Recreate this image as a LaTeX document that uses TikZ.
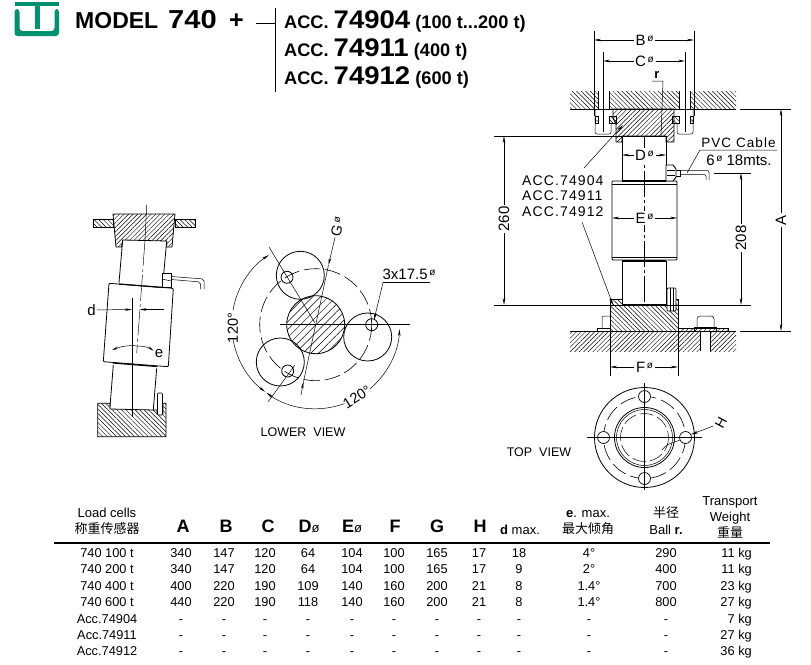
\documentclass[tikz,border=0pt]{standalone}
\usepackage{fontspec}
\usepackage{graphicx}
\setmainfont{Liberation Sans}
\newfontfamily\cjk{Noto Sans CJK SC}
\newfontfamily\tech[LetterSpace=8]{Liberation Sans}
\usetikzlibrary{arrows.meta,patterns.meta,calc}
\definecolor{logogreen}{RGB}{0,146,110}
\newcommand{\fs}[1]{\fontsize{#1}{#1}\selectfont}
\newcommand{\bignum}[1]{{\fs{25.5}\scalebox{1.08}[1]{#1}}}
\newcommand{\dg}{\raisebox{.5ex}{\fs{10}\,ø}}
\tikzset{
    hatchl/.style={pattern={Lines[angle=45,distance=3.2pt,line width=.45pt]}},
    hatchr/.style={pattern={Lines[angle=-45,distance=3.2pt,line width=.45pt]}},
    hatchwide/.style={pattern={Lines[angle=45,distance=5.5pt,line width=.5pt]}},
    thick line/.style={line width=.9pt},
    dim/.style={line width=.5pt,-{Stealth[length=7pt,width=2.6pt]}},
    thin line/.style={line width=.5pt},
    axis line/.style={line width=.45pt,dash pattern=on 26pt off 3pt on 3pt off 3pt},
    bolt circle/.style={line width=.6pt,dash pattern=on 16pt off 5pt},
    lab/.style={font=\fs{15},inner sep=1.5pt,fill=white},
    lab clear/.style={font=\fs{13.5},inner sep=1pt},
    head/.style={font=\fs{18.2}\bfseries,inner sep=0pt,anchor=base west},
    cell/.style={font=\fs{12.8},inner sep=0pt,anchor=base},
    cellh/.style={font=\fs{13},inner sep=0pt,anchor=base},
    letter/.style={font=\fs{18}\bfseries,inner sep=0pt,anchor=base},
}
\begin{document}
\begin{tikzpicture}[x=1pt,y=-1pt]
    \useasboundingbox (0,0) rectangle (811,664);
    % logo
    \fill[logogreen] (14.5,2) rectangle (59,6);
    \fill[logogreen] (35,6) rectangle (40,29);
    \fill[logogreen,rounded corners=3pt] (14.5,9) -- (19.5,9) -- (19.5,31) -- (54.5,31) -- (54.5,9) -- (59,9) -- (59,36) -- (14.5,36) -- cycle;
    % title
    \node[head,font=\fs{23}\bfseries] (model) at (75,28) {MODEL};
    \node[head] (num) at (168,28) {\fs{26}\scalebox{1.12}[1]{740}};
    \node[head,font=\fs{25}] (plus) at (229,28.5) {\textbf{+}};
    \coordinate (brace) at (275,23);
    \coordinate (bracetop) at (275,8);
    \coordinate (bracebot) at (275,92);
    \draw[thin line] (256,23) -- (brace);
    \draw[line width=.7pt] (bracetop) -- (bracebot);
    \node[head] (acca) at (284,28) {ACC. \bignum{74904} (100 t...200 t)};
    \node[head] (accb) at (284,56) {ACC. \bignum{74911} (400 t)};
    \node[head] (accc) at (284,84) {ACC. \bignum{74912} (600 t)};

    % main view, ceiling plate
    \fill[hatchr] (570,91) rectangle (598,109);
    \fill[hatchr] (609,91) rectangle (679,109);
    \fill[hatchr] (690,91) rectangle (736,109);
    \draw[thick line] (570,109) -- (736,109);
    \draw[thin line] (598,91) -- (598,109);
    \draw[thin line] (609,91) -- (609,109);
    \draw[thin line] (679,91) -- (679,109);
    \draw[thin line] (690,91) -- (690,109);
    % accessory block
    \draw[thick line,hatchl] (613,109) -- (674,109) -- (674,142) -- (666,142) -- (666,136) -- (622,136) -- (622,142) -- (616,142) -- (616,124) -- (613,118) -- cycle;
    % bolts of the plate
    \draw[thin line,rounded corners=2pt] (595,109) -- (595,134) -- (611,134) -- (611,124);
    \draw[thin line,rounded corners=2pt] (677,124) -- (677,134) -- (693,134) -- (693,109);
    \draw[line width=.8pt,hatchr] (595,116) rectangle (598,123);
    \draw[line width=.8pt,hatchr] (609,116) rectangle (616,123);
    \draw[line width=.8pt,hatchr] (672,116) rectangle (679,123);
    \draw[line width=.8pt,hatchr] (690,116) rectangle (693,123);
    % load cell
    \draw[thick line] (622,136) rectangle (666,180);
    \draw[line width=1.4pt] (622,136.5) -- (666,136.5);
    \draw[thick line,rounded corners=1pt] (612,183) -- (612,181) -- (677,181) -- (677,260) -- (612,260) -- cycle;
    \draw[line width=1.4pt] (622,181) -- (666,181);
    \draw[thin line] (612,184) -- (677,184);
    \draw[thin line] (612,257) -- (677,257);
    \draw[line width=1.4pt] (622,261) -- (666,261);
    \draw[thick line] (622,261) -- (622,305);
    \draw[thick line] (666,261) -- (666,305);
    % cable
    \draw[line width=.9pt,fill=white] (666,165) -- (673,165) -- (676,169) -- (676,177) -- (673,181) -- (666,181) -- cycle;
    \draw[line width=.6pt] (667,170) -- (675,170);
    \draw[line width=.6pt] (667,175) -- (675,175);
    \draw[thin line] (676,170) -- (680,170) -- (680,176) -- (676,176);
    \draw[thin line,rounded corners=2pt] (680,170.5) -- (709,170.5) -- (709,180);
    \draw[thin line,rounded corners=2pt] (680,174.5) -- (706,174.5) -- (706,180);
    % foot block and base
    \draw[thick line,hatchr] (610,331) -- (610,299) -- (622,299) -- (622,305) -- (666,305) -- (666,299) -- (678,299) -- (678,331) -- cycle;
    \draw[line width=1.4pt] (622,305) -- (666,305);
    \fill[white] (667,288) rectangle (676,311);
    \draw[line width=.7pt,rounded corners=1pt] (667,288) rectangle (676,311);
    \draw[thin line] (670,288) -- (670,311);
    \draw[thin line] (673,288) -- (673,311);
    \fill[hatchl] (570,331) rectangle (700,351);
    \fill[hatchl] (710,331) rectangle (736,351);
    \draw[thick line] (570,331) -- (736,331);
    \draw[thin line] (700,331) -- (700,351);
    \draw[thin line] (710,331) -- (710,351);
    \draw[thin line,hatchl] (678,328) rectangle (728,331);
    \draw[thin line,rounded corners=2pt] (602,328) -- (602,316) -- (610,316);
    \draw[thin line] (597,328) rectangle (610,331);
    \draw[thin line,rounded corners=3pt] (697,327) -- (697,316) -- (714,316) -- (714,327);
    \draw[thin line] (694,327) rectangle (716,331);
    % centre line
    \draw[axis line] (644.5,136) -- (644.5,305);
    % extension lines
    \draw[thin line] (594,31) -- (594,116);
    \draw[thin line] (694,31) -- (694,116);
    \draw[thin line] (603,52) -- (603,132);
    \draw[thin line] (685,52) -- (685,132);
    \draw[thin line] (494,136) -- (622,136);
    \draw[thin line] (494,305) -- (622,305);
    \draw[thin line] (666,305) -- (751,305);
    \draw[thin line] (740,109) -- (791,109);
    \draw[thin line] (740,331) -- (791,331);
    \draw[thin line] (714,173) -- (751,173);
    \draw[thin line] (610,331) -- (610,376);
    \draw[thin line] (678,331) -- (678,376);
    % dimensions
    \node[lab] (dimb) at (644.5,40) {B\dg};
    \draw[dim] (dimb) -- (594,40);
    \draw[dim] (dimb) -- (694,40);
    \node[lab] (dimc) at (644.5,61) {C\dg};
    \draw[dim] (dimc) -- (603,61);
    \draw[dim] (dimc) -- (685,61);
    \node[lab] (dimd) at (644.5,155) {D\dg};
    \draw[dim] (dimd) -- (622,155);
    \draw[dim] (dimd) -- (666,155);
    \node[lab] (dime) at (644.5,218) {E\dg};
    \draw[dim] (dime) -- (612,218);
    \draw[dim] (dime) -- (677,218);
    \node[lab] (dimf) at (644.5,367) {F\dg};
    \draw[dim] (dimf) -- (610,367);
    \draw[dim] (dimf) -- (678,367);
    \node[lab,rotate=90] (dimh) at (504,219) {260};
    \draw[dim] (dimh) -- (504,136);
    \draw[dim] (dimh) -- (504,305);
    \node[lab,rotate=90] (dimk) at (741,238) {208};
    \draw[dim] (dimk) -- (741,173);
    \draw[dim] (dimk) -- (741,305);
    \node[lab,rotate=90] (dima) at (781,220) {A};
    \draw[dim] (dima) -- (781,109);
    \draw[dim] (dima) -- (781,331);
    % radius
    \node[lab clear,font=\fs{13}\bfseries] (rad) at (657,75) {r};
    \draw[thin line] (652,81) -- (663,81) -- (661,136);
    % accessory labels
    \node[lab clear,anchor=west,font=\fs{14}\tech] (labacca) at (521,181) {ACC.74904};
    \node[lab clear,anchor=west,font=\fs{14}\tech] (labaccb) at (521,196) {ACC.74911};
    \node[lab clear,anchor=west,font=\fs{14}\tech] (labaccc) at (521,212) {ACC.74912};
    \draw[dim] (584,168) -- (623,125);
    \draw[dim] (582,222) -- (613,305);
    % cable text
    \node[lab clear,font=\fs{13.5}\tech] (pvc) at (738.5,143) {PVC Cable};
    \node[lab clear,font=\fs{15}] (pvcb) at (739,160) {6\dg\ 18mts.};
    \draw[thin line] (777,150) -- (700,150) -- (687,173);

    % top view
    \coordinate (topc) at (644.5,437.5);
    \draw[line width=.8pt] (topc) circle (50);
    \draw[bolt circle] (topc) circle (41);
    \draw[line width=.8pt] (topc) circle (30);
    \draw[thin line] (topc) circle (28);
    \draw[thin line,dash pattern=on 14pt off 4pt] (topc) circle (24);
    \draw[line width=.7pt,fill=white] (685.5,437.5) circle (6);
    \draw[line width=.7pt,fill=white] (603.5,437.5) circle (6);
    \draw[line width=.7pt,fill=white] (644.5,396.5) circle (6);
    \draw[line width=.7pt,fill=white] (644.5,478.5) circle (6);
    \draw[thin line] (587,437.5) -- (702,437.5);
    \draw[thin line] (644.5,383) -- (644.5,490);
    \node[lab clear,font=\fs{14},rotate=62] (dimhole) at (721,423) {H};
    \draw[dim] (dimhole) -- (691,434.5);
    \draw[thin line] (680,440) -- (672,443) .. controls (668,444) and (664,447) .. (662,450);
    \node[lab clear,font=\fs{12.5}] (topview) at (539,452.5) {TOP\ \ VIEW};

    % lower view
    \coordinate (lowc) at (315.7,324.7);
    \draw[bolt circle] (lowc) circle (56);
    \draw[line width=.8pt,hatchwide] (lowc) circle (29);
    \draw[line width=.8pt] (367.7,337) circle (24);
    \draw[line width=.8pt] (300.3,275.3) circle (24);
    \draw[line width=.8pt] (280.3,362) circle (24);
    \draw[line width=.8pt] (371.7,324.7) circle (6);
    \draw[line width=.8pt] (287,277.3) circle (6);
    \draw[line width=.8pt] (287.7,371) circle (6);
    \draw[thin line] (280,324.7) -- (410,324.7);
    \draw[thin line] (269,247) -- (315,323);
    \draw[thin line] (268,402) -- (295,365);
    \node[lab clear,rotate=90,font=\fs{14.5}] (ang) at (233,328) {120°};
    \node[lab clear,rotate=32,font=\fs{14.5}] (angb) at (357,397) {120°};
    \draw[thin line,{Stealth[length=7pt,width=2.6pt]}-] ($(lowc)+(3:84)$) arc (3:50:84);
    \draw[thin line,-{Stealth[length=7pt,width=2.6pt]}] ($(lowc)+(70:84)$) arc (70:126:84);
    \draw[thin line,{Stealth[length=7pt,width=2.6pt]}-] ($(lowc)+(127:84)$) arc (127:170:84);
    \draw[thin line,-{Stealth[length=7pt,width=2.6pt]}] ($(lowc)+(190:84)$) arc (190:236:84);
    \node[lab clear,rotate=76,font=\fs{14.5}] (dimg) at (337.5,227) {G\dg};
    \draw[dim] (dimg) -- (328.5,265);
    \draw[thin line] (328.5,265) -- (303.5,381.7);
    \draw[dim] (301,395) -- (303.5,381.7);
    \node[lab clear,font=\fs{15}] (holes) at (409,274) {3x17.5\dg};
    \draw[thin line] (430,282.5) -- (383,282.5);
    \draw[dim] (383,282.5) -- (374,320);
    \node[lab clear,font=\fs{12.5}] (lowview) at (303,432.5) {LOWER\ \ VIEW};

    % tilted view
    \draw[line width=.8pt,hatchl] (113,214) -- (175,214) -- (172,247) -- (166.7,247) -- (166.7,241) -- (122.7,240) -- (121.5,247) -- (116,247) -- cycle;
    \draw[thin line,hatchr] (93,219) rectangle (113,227);
    \draw[thin line,hatchr] (175,219) rectangle (195,227);
    \draw[line width=.8pt] (122.7,240) -- (119,282.7);
    \draw[line width=.8pt] (166.7,241) -- (162.7,285);
    \draw[line width=.8pt,rounded corners=1pt] (109,283.3) -- (173.3,288.3) -- (168.3,366.7) -- (103.3,361.7) -- cycle;
    \draw[line width=1.2pt] (119,284) -- (163,287.5);
    \draw[line width=1.2pt] (113,363) -- (157,366.5);
    \draw[line width=.8pt] (113.3,365) -- (110,406.7);
    \draw[line width=.8pt] (156.7,368.3) -- (153.3,410);
    \draw[line width=.8pt,hatchr] (97.7,403.3) -- (110,403.3) -- (110,409) -- (153.3,410) -- (157,410) -- (157,414) -- (163,414) -- (163,403.3) -- (166,403.3) -- (166,436.7) -- (97.7,436.7) -- cycle;
    \draw[line width=.7pt,fill=white,rounded corners=1pt] (157.5,393) -- (162.5,393) -- (162.5,415) -- (157.5,415) -- cycle;
    \draw[line width=.9pt,fill=white] (162,273) rectangle (171,287);
    \draw[thin line] (162,279) -- (171,281);
    \draw[thin line,rounded corners=2pt] (171,276.5) -- (204,279) -- (204,289);
    \draw[thin line,rounded corners=2pt] (171,279.5) -- (200.5,282) -- (200.5,289);
    \draw[thin line] (132,298) -- (132,417);
    \draw[thin line] (146.7,205) -- (145,240);
    \draw[axis line] (145,240) -- (136.7,353);
    \node[lab clear,font=\fs{15}] (dimtilt) at (91.5,310) {d};
    \draw[dim] (dimtilt) -- (132,309.5);
    \coordinate (tiltr) at (163.5,309.5);
    \draw[dim] (tiltr) -- (139.5,309.5);
    \node[lab clear,font=\fs{15}] (dimang) at (159,354) {e};
    \draw[thin line,{Stealth[length=6pt,width=2.4pt]}-] (112,350) .. controls (122,346) and (132,345) .. (137,346);
    \draw[thin line,-{Stealth[length=6pt,width=2.4pt]}] (137,346) .. controls (142,346) and (148,347) .. (dimang);

    % table head
    \node[cellh] (hload) at (107,517) {Load cells};
    \node[cellh,font=\fs{13}\cjk] (hloadc) at (107,533) {称重传感器};
    \node[letter] (ha) at (183,532) {A};
    \node[letter] (hb) at (226,532) {B};
    \node[letter] (hc) at (268,532) {C};
    \node[letter] (hd) at (309,532) {D\textnormal{\fs{13}ø}};
    \node[letter] (he) at (352,532) {E\textnormal{\fs{13}ø}};
    \node[letter] (hf) at (395,532) {F};
    \node[letter] (hg) at (437,532) {G};
    \node[letter] (hh) at (480,532) {H};
    \node[cellh] (hdmax) at (520,534) {\textbf{d} max.};
    \node[cellh] (hemax) at (588,517) {\textbf{e}. max.};
    \node[cellh,font=\fs{13}\cjk] (hemaxc) at (588,533) {最大倾角};
    \node[cellh,font=\fs{13}\cjk] (hball) at (666,517) {半径};
    \node[cellh] (hballr) at (666,534) {Ball \textbf{r.}};
    \node[cellh] (htrans) at (730,505) {Transport};
    \node[cellh] (hweight) at (730,521) {Weight};
    \node[cellh,font=\fs{13}\cjk] (hmass) at (730,537) {重量};
    \draw[line width=1.4pt] (54,543) -- (770,543);
    % table rows
    \foreach \yy/\name/\va/\vb/\vc/\vd/\ve/\vf/\vg/\vh/\vi/\vj/\vk/\vl [count=\r] in {
        557/740 100 t/340/147/120/64/104/100/165/17/18/4°/290/11 kg,
        573/740 200 t/340/147/120/64/104/100/165/17/9/2°/400/11 kg,
        590/740 400 t/400/220/190/109/140/160/200/21/8/1.4°/700/23 kg,
        606/740 600 t/440/220/190/118/140/160/200/21/8/1.4°/800/27 kg,
        623/Acc.74904/-/-/-/-/-/-/-/-/-/-/-/7 kg,
        639/Acc.74911/-/-/-/-/-/-/-/-/-/-/-/27 kg,
        655/Acc.74912/-/-/-/-/-/-/-/-/-/-/-/36 kg} {
        \node[cell] (row\r name) at (107,\yy) {\name};
        \node[cell] (row\r a) at (181,\yy) {\va};
        \node[cell] (row\r b) at (224,\yy) {\vb};
        \node[cell] (row\r c) at (265,\yy) {\vc};
        \node[cell] (row\r d) at (308,\yy) {\vd};
        \node[cell] (row\r e) at (352,\yy) {\ve};
        \node[cell] (row\r f) at (394,\yy) {\vf};
        \node[cell] (row\r g) at (437,\yy) {\vg};
        \node[cell] (row\r h) at (479,\yy) {\vh};
        \node[cell] (row\r i) at (519,\yy) {\vi};
        \node[cell] (row\r j) at (589,\yy) {\vj};
        \node[cell] (row\r k) at (666,\yy) {\vk};
        \node[cell,anchor=base east] (row\r l) at (752,\yy) {\vl};
    }
\end{tikzpicture}
\end{document}
